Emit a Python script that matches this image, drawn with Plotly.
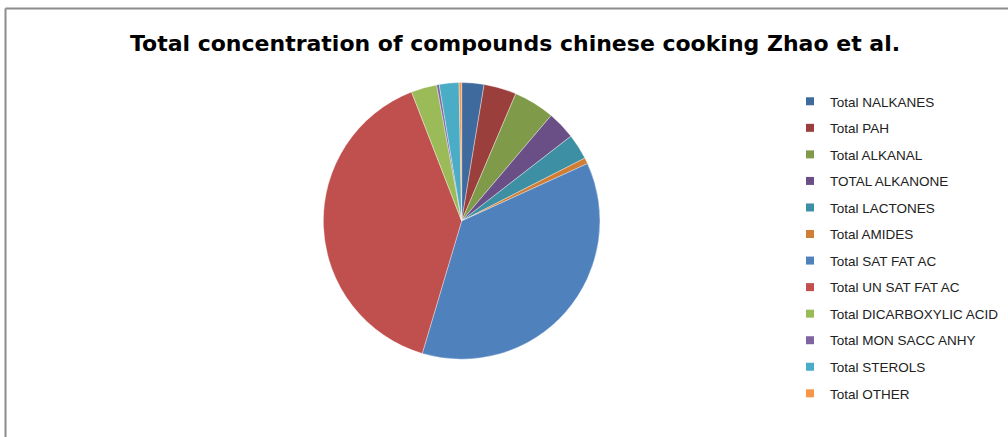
import plotly.graph_objects as go

categories = ["Total NALKANES", "Total PAH", "Total ALKANAL", "TOTAL ALKANONE",
              "Total LACTONES", "Total AMIDES", "Total SAT FAT AC", "Total UN SAT FAT AC",
              "Total DICARBOXYLIC ACID", "Total MON SACC ANHY", "Total STEROLS", "Total OTHER"]
values = [2.6, 3.8, 4.8, 3.3, 3.0, 0.7, 36.4, 39.5, 3.0, 0.3, 2.3, 0.3]
colors = ["#3E6A9D", "#9B3F3D", "#7F9B4A", "#6A4F86", "#3D8FA3", "#D07D35",
          "#4F81BD", "#C0504D", "#9BBB59", "#8064A2", "#4BACC6", "#F79646"]
title_text = "Total concentration of compounds chinese cooking Zhao et al."

W, H = 1008, 437

fig = go.Figure()
fig.add_trace(go.Pie(
    labels=categories, values=values, sort=False, direction="clockwise", rotation=0,
    marker=dict(colors=colors, line=dict(color="rgba(255,255,255,0.6)", width=0.6)),
    textinfo="none", showlegend=False,
    domain=dict(x=[0.2595, 0.6565], y=[0.178, 0.811]),
))
for i, (c, col) in enumerate(zip(categories, colors)):
    fig.add_trace(go.Scatter(
        x=[None], y=[None], mode="markers", name=c, legendgroup=f"g{i}",
        marker=dict(symbol="square", size=8, color=col),
    ))

fig.update_layout(
    width=W, height=H,
    margin=dict(l=0, r=0, t=0, b=0),
    paper_bgcolor="white", plot_bgcolor="white",
    xaxis=dict(visible=False), yaxis=dict(visible=False),
    title=dict(text=f"<b>{title_text}</b>", x=515 / W, y=1 - 43 / H, xanchor="center",
               yanchor="middle", xref="paper", yref="paper",
               font=dict(family="DejaVu Sans", size=22, color="#000000")),
    legend=dict(x=790 / W, y=1 - 86 / H, xanchor="left", yanchor="top",
                font=dict(family="Liberation Sans, Arial", size=13.5, color="#222222"),
                tracegroupgap=6, bgcolor="rgba(0,0,0,0)"),
    shapes=[
        dict(type="line", xref="paper", yref="paper", x0=5.5 / W, x1=5.5 / W,
             y0=0, y1=1 - 8.5 / H, line=dict(color="#8C8C8C", width=2)),
        dict(type="line", xref="paper", yref="paper", x0=5.5 / W, x1=1,
             y0=1 - 8.5 / H, y1=1 - 8.5 / H, line=dict(color="#8C8C8C", width=2)),
    ],
)
fig.write_html("out.html", post_script="document.body.style.margin='0';",
               config={"displayModeBar": False})
